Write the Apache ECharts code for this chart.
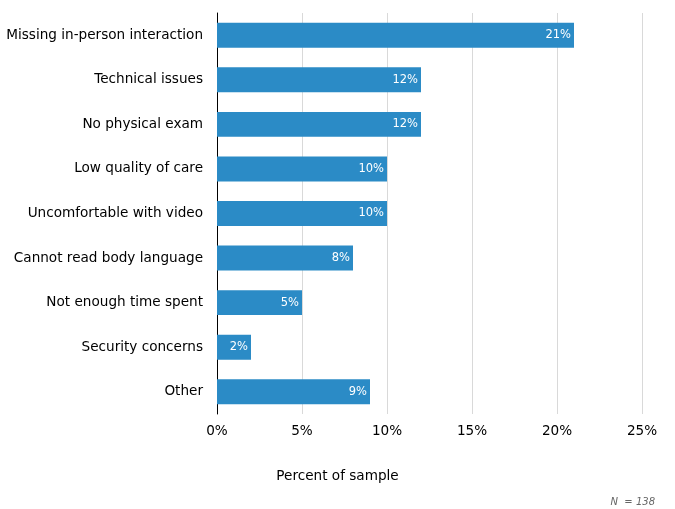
<!DOCTYPE html>
<html><head><meta charset="utf-8">
<script src="https://cdn.jsdelivr.net/npm/echarts@6/dist/echarts.min.js"></script>
<style>html,body{margin:0;padding:0;background:#fff}#c{width:675px;height:509px}</style>
</head><body><div id="c"></div>
<script>
const categories = ["Missing in-person interaction","Technical issues","No physical exam","Low quality of care","Uncomfortable with video","Cannot read body language","Not enough time spent","Security concerns","Other"];
const values = [21,12,12,10,10,8,5,2,9];
const xTicks = [0,5,10,15,20,25];
const font = "DejaVu Sans, Verdana, sans-serif";
const chart = echarts.init(document.getElementById('c'));
chart.setOption({
  animation:false,
  grid:{left:217,right:33,top:13,bottom:95,containLabel:false},
  xAxis:{type:'value',min:xTicks[0],max:xTicks[xTicks.length-1],interval:5,
    axisLabel:{formatter:'{value}%',color:'#000',fontFamily:font,fontSize:13.6,margin:10},
    splitLine:{show:true,lineStyle:{color:'#d9d9d9',width:1}},
    axisLine:{show:false},axisTick:{show:false}},
  yAxis:{type:'category',data:categories,inverse:true,
    axisLine:{show:true,lineStyle:{color:'#000',width:1}},
    axisTick:{show:false},
    axisLabel:{color:'#000',fontFamily:font,fontSize:13.6,margin:14,padding:[2,0,0,0]}},
  series:[{type:'bar',data:values,barWidth:'56%',
    itemStyle:{color:'#2b8bc6'},
    label:{show:true,position:'insideRight',formatter:'{c}%',color:'#fff',fontFamily:font,fontSize:11.5,distance:3}}],
  graphic:[
    {type:'text',left:'center',top:469,style:{text:'Percent of sample',fill:'#000',font:'13.6px '+font}},
    {type:'text',right:20,bottom:2,style:{text:'N  = 138',fill:'#666',font:'italic 10px '+font}}]
});
</script></body></html>
